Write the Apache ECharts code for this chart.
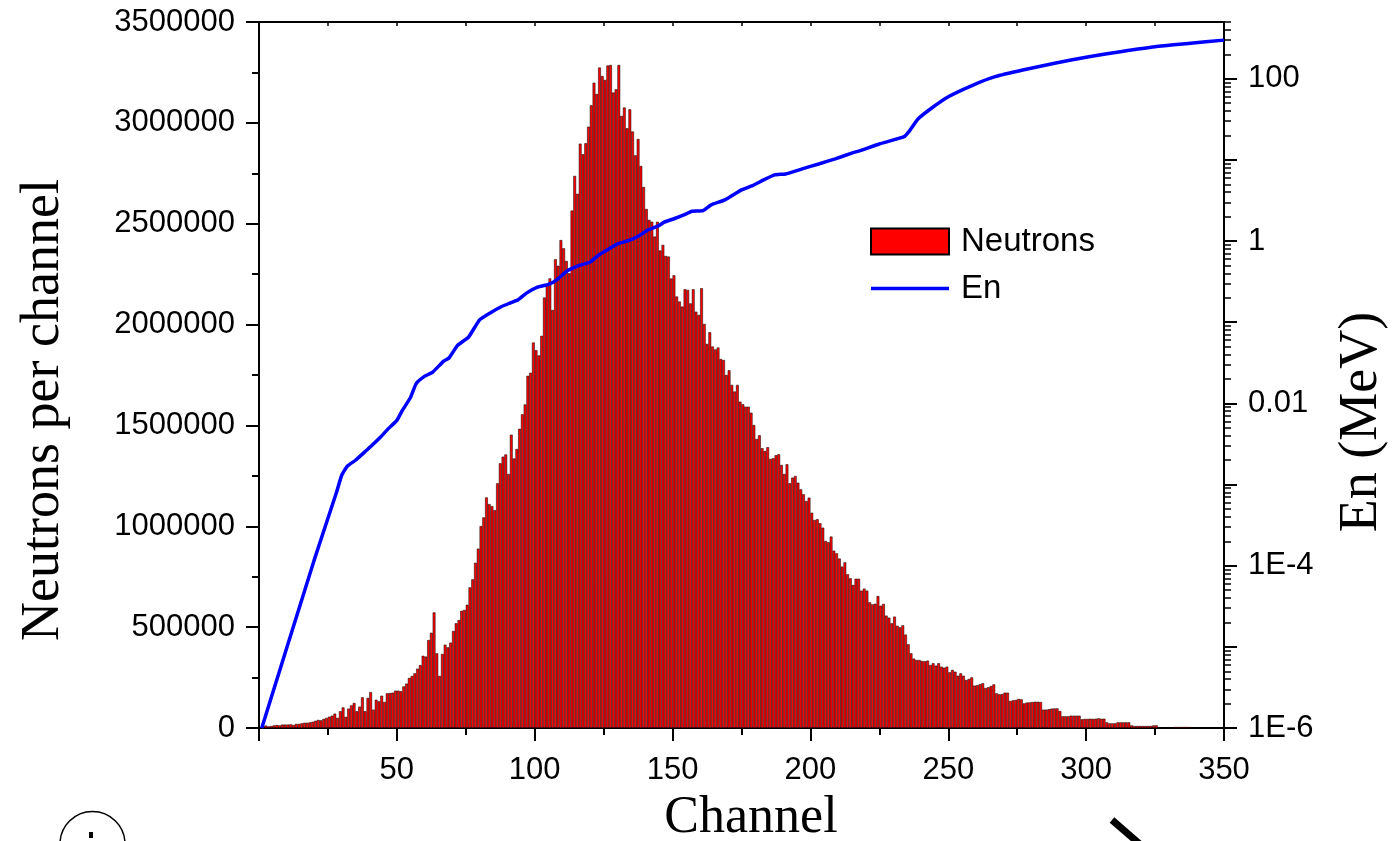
<!DOCTYPE html>
<html><head><meta charset="utf-8">
<script src="https://cdn.jsdelivr.net/npm/echarts@6/dist/echarts.min.js"></script>
<style>html,body{margin:0;padding:0;background:#fff}#c{width:1393px;height:841px}</style>
</head><body><div id="c"></div>
<script>
// Neutrons per channel, channels 1..349
const neutrons = [
 10000,12000,8000,10000,13000,15000,13000,17000,17000,17000,
 18000,15000,20000,20000,23000,26000,26000,28000,31000,36000,
 40000,38000,45000,50000,56000,61000,71000,50000,83000,102000,
 55000,96000,112000,124000,83000,106000,152000,83000,149000,178000,
 91000,140000,132000,160000,129000,172000,173000,175000,185000,185000,
 182000,206000,220000,248000,258000,271000,294000,312000,358000,354000,
 436000,472000,573000,370000,258000,367000,413000,400000,423000,481000,
 519000,535000,581000,585000,611000,697000,737000,819000,889000,1001000,
 1044000,1143000,1110000,1100000,1080000,1213000,1312000,1345000,1356000,1259000,
 1454000,1336000,1383000,1483000,1555000,1604000,1746000,1761000,1911000,1873000,
 1847000,1944000,2134000,2195000,2229000,2072000,2324000,2291000,2419000,2378000,
 2315000,2254000,2565000,2737000,2648000,2897000,2844000,2899000,2981000,3087000,
 3199000,3143000,3274000,3232000,3213000,3284000,3287000,3150000,3166000,3287000,
 3034000,3076000,2973000,3067000,2957000,2839000,2920000,2786000,2682000,2573000,
 2519000,2510000,2436000,2510000,2367000,2395000,2340000,2337000,2228000,2244000,
 2139000,2114000,2089000,2175000,2172000,2105000,2175000,2064000,2048000,2180000,
 2003000,1904000,1962000,1891000,1877000,1886000,1829000,1824000,1750000,1773000,
 1701000,1668000,1701000,1618000,1605000,1593000,1593000,1563000,1502000,1433000,
 1451000,1387000,1373000,1392000,1334000,1337000,1352000,1357000,1304000,1259000,
 1307000,1213000,1241000,1249000,1216000,1183000,1159000,1125000,1142000,1067000,
 1031000,1035000,1015000,993000,927000,921000,949000,879000,866000,840000,
 800000,821000,762000,742000,709000,740000,740000,681000,691000,681000,
 623000,613000,616000,654000,606000,615000,557000,547000,519000,552000,
 507000,499000,509000,463000,415000,370000,344000,337000,337000,332000,
 331000,334000,312000,321000,309000,321000,304000,299000,304000,276000,
 288000,279000,259000,271000,259000,238000,243000,251000,210000,212000,
 217000,222000,198000,202000,208000,216000,172000,167000,168000,175000,
 175000,134000,137000,139000,144000,142000,122000,126000,127000,129000,
 130000,130000,129000,91000,91000,93000,96000,97000,97000,84000,
 58000,58000,58000,61000,61000,61000,61000,43000,45000,45000,
 46000,45000,46000,48000,46000,46000,28000,23000,23000,23000,
 28000,28000,28000,28000,28000,13000,10000,10000,10000,10000,
 10000,10000,10000,13000,13000,3000,2000,2000,2000,2000,
 2000,5000,5000,5000,5000,5000,5000,2000,2000,2000,
 2000,2000,2000,2000,2000,2000,2000,2000,2000
];
const channels = neutrons.map((_, i) => i + 1);

// En (MeV) curve, read at these channels
const enChannels = [1,20,28,30,32,35,39,41,44,47,50,52,55,57,60,63,67,69,72,76,80,84,88,91,94,97,101,105,108,112,116,120,123,127,130,134,138,141,145,147,151,155,157,161,164,169,175,179,183,187,191,197,203,209,215,218,225,234,236,239,244,250,259,267,277,289,301,313,325,337,350];
const enValues = [1e-6,1.17e-4,7.8e-4,1.30e-3,1.68e-3,1.99e-3,2.64e-3,3.04e-3,3.82e-3,4.92e-3,6.18e-3,8.2e-3,1.19e-2,1.75e-2,2.15e-2,2.43e-2,3.32e-2,3.65e-2,5.18e-2,6.55e-2,0.107,0.131,0.156,0.172,0.189,0.228,0.270,0.292,0.333,0.434,0.499,0.548,0.664,0.802,0.923,1.01,1.17,1.37,1.55,1.71,1.91,2.16,2.33,2.37,2.79,3.21,4.27,4.82,5.66,6.53,6.71,7.74,8.91,10.3,12.1,13.0,15.7,19.3,22.9,31.9,43.6,60.0,83.6,106,128,156,187,217,248,272,299];

// axis ticks / labels
const xTickInterval = 50;
const leftTickInterval = 500000;
const rightLabelValues = [1e-6, 1e-4, 0.01, 1, 100];
const rightLabelTexts = ['1E-6', '1E-4', '0.01', '1', '100'];
const rightDecades = [1e-6,1e-5,1e-4,1e-3,1e-2,1e-1,1,10,100];

const rightMinor = [];
for (const d of rightDecades) for (let k = 2; k <= 9; k++) { const v = k * d; if (v <= 500) rightMinor.push(v); }

const G = {left: 259, right: 169, top: 22, bottom: 113};
const plotW = 1393 - G.left - G.right;
const binPx = plotW / 350;

const black = '#000';
const sans = 'Liberation Sans';
const labelStyle = {color: black, fontFamily: sans, fontSize: 31};

function rightLabel(v) {
  const i = rightLabelValues.findIndex(t => Math.abs(Math.log10(t) - Math.log10(v)) < 0.01);
  return i >= 0 ? rightLabelTexts[i] : '';
}

const chart = echarts.init(document.getElementById('c'), null, {renderer: 'canvas'});
chart.setOption({
  animation: false,
  backgroundColor: '#fff',
  grid: G,
  legend: {
    orient: 'vertical', left: 870, top: 225, padding: 0,
    itemWidth: 78, itemHeight: 26, itemGap: 14,
    textStyle: {color: black, fontFamily: sans, fontSize: 33, padding: [0, 0, 0, 7]},
    data: [{name: 'Neutrons', icon: 'rect'}, {name: 'En', icon: 'path://M0 0H78V3.5H0Z'}]
  },
  xAxis: [{
    type: 'value', min: 0, max: 350, interval: xTickInterval, position: 'bottom',
    axisLine: {show: true, onZero: false, lineStyle: {color: black, width: 2}},
    axisTick: {show: true, inside: false, length: 13, lineStyle: {color: black, width: 2}},
    minorTick: {show: true, splitNumber: 2, length: 7, lineStyle: {color: black, width: 2}},
    axisLabel: Object.assign({margin: 27, showMinLabel: false}, labelStyle),
    splitLine: {show: false}
  }, {
    type: 'value', min: 0, max: 350, interval: 25, position: 'top',
    axisLine: {show: true, onZero: false, lineStyle: {color: black, width: 2}},
    axisTick: {show: true, inside: true, length: 4, lineStyle: {color: black, width: 1.5}},
    axisLabel: {show: false}, splitLine: {show: false}
  }],
  yAxis: [{
    type: 'value', min: 0, max: 3500000, interval: leftTickInterval, position: 'left',
    axisLine: {show: true, onZero: false, lineStyle: {color: black, width: 2}},
    axisTick: {show: true, inside: false, length: 13, lineStyle: {color: black, width: 2}},
    minorTick: {show: true, splitNumber: 2, length: 7, lineStyle: {color: black, width: 2}},
    axisLabel: Object.assign({margin: 24, formatter: v => String(v)}, labelStyle),
    splitLine: {show: false}
  }, {
    type: 'log', logBase: 10, min: 1e-6, max: 500, splitNumber: 9, position: 'right',
    axisLine: {show: true, onZero: false, lineStyle: {color: black, width: 2}},
    axisTick: {show: true, inside: false, length: 13, lineStyle: {color: black, width: 2}},
    axisLabel: Object.assign({margin: 24, showMaxLabel: false, hideOverlap: false, formatter: rightLabel}, labelStyle),
    splitLine: {show: false}
  }, {
    type: 'log', logBase: 10, min: 1e-6, max: 500, position: 'right',
    axisLine: {show: false, onZero: false},
    axisTick: {show: true, inside: false, length: 7, customValues: rightMinor, lineStyle: {color: black, width: 1.5}},
    axisLabel: {show: false}, splitLine: {show: false}
  }],
  series: [{
    name: 'Neutrons', type: 'bar', xAxisIndex: 0, yAxisIndex: 0,
    data: channels.map((c, i) => [c + 0.5, neutrons[i]]),
    barWidth: binPx,
    itemStyle: {color: '#ff0000', borderColor: black, borderWidth: 0.5},
    z: 2
  }, {
    name: 'En', type: 'line', xAxisIndex: 0, yAxisIndex: 1,
    data: enChannels.map((c, i) => [c, enValues[i]]),
    symbol: 'none', smooth: 0.15,
    lineStyle: {color: '#0000ff', width: 3.5}, itemStyle: {color: '#0000ff'},
    z: 3
  }],
  graphic: [
    {type: 'text', x: 44, y: 410, rotation: Math.PI / 2,
     style: {text: 'Neutrons per channel', fill: black, font: '54px "Liberation Serif"', textAlign: 'center', textVerticalAlign: 'middle'}},
    {type: 'text', x: 1362, y: 422, rotation: Math.PI / 2,
     style: {text: 'En (MeV)', fill: black, font: '54px "Liberation Serif"', textAlign: 'center', textVerticalAlign: 'middle'}},
    {type: 'text', x: 751, y: 818,
     style: {text: 'Channel', fill: black, font: '52px "Liberation Serif"', textAlign: 'center', textVerticalAlign: 'middle'}},
    {type: 'circle', shape: {cx: 92.5, cy: 844, r: 32.5}, style: {fill: 'none', stroke: black, lineWidth: 1.5}},
    {type: 'rect', shape: {x: 89, y: 832, width: 4, height: 6}, style: {fill: black}},
    {type: 'line', shape: {x1: 1112, y1: 820, x2: 1142, y2: 846}, style: {stroke: black, lineWidth: 7}}
  ]
});
</script>
</body></html>
